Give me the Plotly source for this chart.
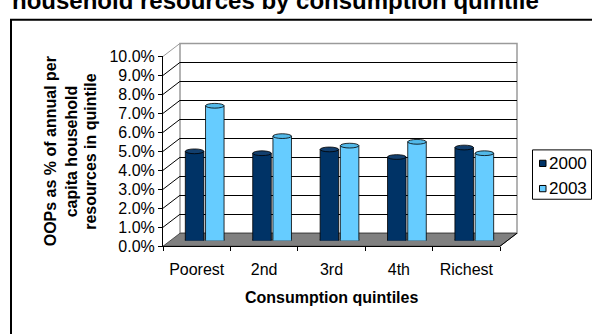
import plotly.graph_objects as go

W, H = 592, 334

# ---- data ----
quintiles = ["Poorest", "2nd", "3rd", "4th", "Richest"]
years = ["2000", "2003"]
oop_2000 = [4.7, 4.6, 4.8, 4.4, 4.9]
oop_2003 = [7.1, 5.5, 5.0, 5.2, 4.6]
y_ticks = [0, 1, 2, 3, 4, 5, 6, 7, 8, 9, 10]
y_tick_text = [f"{v:.1f}%" for v in y_ticks]
y_title_lines = ["OOPs as % of annual per", "capita household", "resources in quintile"]

colors = {"2000": "#003366", "2003": "#66CCFF"}
cap_colors = {"2000": "#123F6E", "2003": "#52B8E8"}
offsets = {"2000": -0.295, "2003": 0.005}
BAR_W = 0.275
FONT = "Liberation Sans, Arial, sans-serif"


def px(x):
    return x / W


def py(y):
    return 1 - y / H


fig = go.Figure()

# carrier for the front (labelled) axes
fig.add_trace(go.Scatter(x=quintiles, y=[0] * len(quintiles), mode="markers",
                         marker=dict(opacity=0), showlegend=False,
                         hoverinfo="skip", xaxis="x", yaxis="y"))
# carrier for the back wall axes
fig.add_trace(go.Scatter(x=[0.5], y=[0], mode="markers", marker=dict(opacity=0),
                         showlegend=False, hoverinfo="skip",
                         xaxis="x2", yaxis="y2"))

idx = list(range(len(quintiles)))
series = {"2000": oop_2000, "2003": oop_2003}
for yr in years:
    fig.add_trace(go.Bar(x=idx, y=series[yr], name=yr, width=BAR_W,
                         offset=offsets[yr],
                         marker=dict(color=colors[yr],
                                     line=dict(color="black", width=0.8)),
                         xaxis="x3", yaxis="y3", showlegend=False,
                         hoverinfo="skip"))

shapes = []
# outer frame
shapes.append(dict(type="rect", xref="paper", yref="paper",
                   x0=px(11), x1=1.05, y0=-0.05, y1=py(12.5),
                   line=dict(color="black", width=2), layer="above"))
# back wall
shapes.append(dict(type="rect", xref="paper", yref="paper",
                   x0=px(180), x1=px(517), y0=py(237.3), y1=py(37.3),
                   fillcolor="white", line=dict(color="#9A9A9A", width=1.5),
                   layer="below"))
# floor
shapes.append(dict(type="path", xref="paper", yref="paper",
                   path=f"M {px(163)},{py(251)} L {px(500)},{py(251)} "
                        f"L {px(517)},{py(237.3)} L {px(180)},{py(237.3)} Z",
                   fillcolor="#808080", line=dict(color="#333333", width=0.8),
                   layer="below"))
# right floor edge
shapes.append(dict(type="line", xref="paper", yref="paper",
                   x0=px(500), y0=py(251), x1=px(517), y1=py(237.3),
                   line=dict(color="black", width=1), layer="above"))
# side wall diagonals
for k in y_ticks[1:]:
    shapes.append(dict(type="line", xref="paper", yref="paper",
                       x0=px(163), y0=py(251 - 20 * k),
                       x1=px(180), y1=py(237.3 - 20 * k),
                       line=dict(color="#9A9A9A" if k == 10 else "black",
                                 width=1), layer="below"))

# cylinder caps and bottoms
h = 0.125
for yr in years:
    for i, v in zip(idx, series[yr]):
        x0 = i + offsets[yr]
        x1 = x0 + BAR_W
        k = h / 0.75
        shapes.append(dict(type="path", xref="x3", yref="y3",
                           path=f"M {x0},0.05 L {x0},0 C {x0},{-k} {x1},{-k} {x1},0 L {x1},0.05",
                           fillcolor=colors[yr],
                           line=dict(color="black", width=0.8), layer="above"))
        shapes.append(dict(type="circle", xref="x3", yref="y3",
                           x0=x0, x1=x1, y0=v - h, y1=v + h,
                           fillcolor=cap_colors[yr],
                           line=dict(color="black", width=0.8), layer="above"))

# manual legend box and swatches
shapes.append(dict(type="rect", xref="paper", yref="paper",
                   x0=px(532.5), x1=px(591.5), y0=py(201.5), y1=py(149.5),
                   fillcolor="white", line=dict(color="black", width=1),
                   layer="above"))
legend_y = {"2000": 163.7, "2003": 190.3}
for yr in years:
    shapes.append(dict(type="rect", xref="paper", yref="paper",
                       x0=px(539.5), x1=px(546), y0=py(legend_y[yr] + 3.3),
                       y1=py(legend_y[yr] - 3.3),
                       fillcolor=colors[yr], line=dict(color="black", width=1),
                       layer="above"))

annotations = [
    dict(text="<b>household resources by consumption quintile</b>",
         xref="paper", yref="paper", x=px(10), y=py(8.5),
         xanchor="left", yanchor="bottom", showarrow=False,
         font=dict(family=FONT, size=24, color="black")),
    dict(text="<b>Consumption quintiles</b>",
         xref="paper", yref="paper", x=px(331.5), y=py(305),
         xanchor="center", yanchor="middle", showarrow=False,
         font=dict(family=FONT, size=16, color="black")),
]
for line, xc in zip(y_title_lines, [50, 71, 90.5]):
    annotations.append(dict(text=f"<b>{line}</b>", xref="paper", yref="paper",
                            x=px(xc), y=py(151), xanchor="center",
                            yanchor="middle", textangle=-90, showarrow=False,
                            font=dict(family=FONT, size=16, color="black")))
for yr in years:
    annotations.append(dict(text=yr, xref="paper", yref="paper",
                            x=px(547), y=py(legend_y[yr]),
                            xanchor="left", yanchor="middle", showarrow=False,
                            font=dict(family=FONT, size=17, color="black")))

fig.update_layout(
    width=W, height=H, autosize=False,
    margin=dict(l=0, r=0, t=0, b=0),
    paper_bgcolor="white", plot_bgcolor="rgba(0,0,0,0)",
    showlegend=False, barmode="group",
    font=dict(family=FONT, color="black"),
    xaxis=dict(domain=[px(163), px(500)], anchor="y", type="category",
               categoryorder="array", categoryarray=quintiles,
               range=[-0.5, len(quintiles) - 0.5],
               showline=True, linecolor="black", linewidth=1,
               ticks="outside", ticklen=4, tickcolor="black",
               tickson="boundaries", showgrid=False, zeroline=False,
               ticklabelstandoff=9,
               tickfont=dict(family=FONT, size=16, color="black")),
    yaxis=dict(domain=[py(251), py(51)], anchor="x", range=[0, 10],
               tickvals=y_ticks, ticktext=y_tick_text,
               showline=True, linecolor="black", linewidth=1,
               ticks="outside", ticklen=4, tickcolor="black",
               showgrid=False, zeroline=False,
               tickfont=dict(family=FONT, size=16, color="black")),
    xaxis2=dict(domain=[px(180), px(517)], anchor="y2", range=[0, 1],
                visible=False),
    yaxis2=dict(domain=[py(237.3), py(37.3)], anchor="x2", range=[0, 10],
                tickvals=y_ticks[1:-1], showticklabels=False, ticks="",
                showgrid=True, gridcolor="black", gridwidth=1,
                zeroline=False, showline=False),
    xaxis3=dict(domain=[px(171.5), px(508.5)], anchor="y3",
                range=[-0.5, len(quintiles) - 0.5], visible=False),
    yaxis3=dict(domain=[py(245), py(45)], anchor="x3", range=[0, 10],
                visible=False),
    shapes=shapes,
    annotations=annotations,
)

fig.write_html("out.html")
